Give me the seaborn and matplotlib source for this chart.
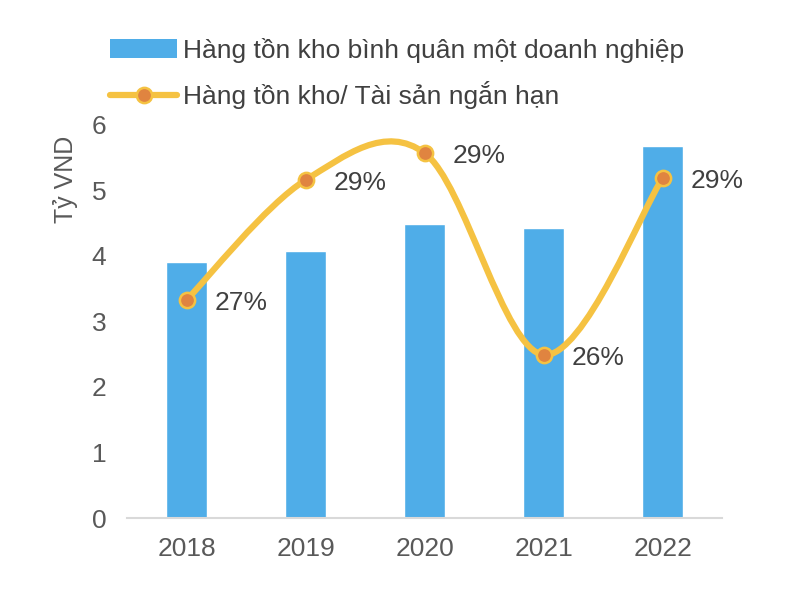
import numpy as np
import pandas as pd
import matplotlib
matplotlib.use("Agg")
import matplotlib.pyplot as plt
from matplotlib.path import Path
from matplotlib.patches import PathPatch
from matplotlib.lines import Line2D
from matplotlib.patches import Patch
import seaborn as sns

years = ["2018", "2019", "2020", "2021", "2022"]
inventory = [3.91, 4.08, 4.49, 4.43, 5.68]          # Ty VND
ratio = [26.78, 28.61, 29.02, 25.94, 28.64]         # %
bar_name = "Hàng tồn kho bình quân một doanh nghiệp"
line_name = "Hàng tồn kho/ Tài sản ngắn hạn"

sns.set_theme(style="white")
plt.rcParams["font.family"] = ["Liberation Sans", "DejaVu Sans"]

bar_color = "#4FADE8"
line_color = "#F5C242"
marker_color = "#E08440"
text_color = "#404040"

df = pd.DataFrame({"year": years, "value": inventory})

fig = plt.figure(figsize=(7.85, 5.92), dpi=100)
ax = fig.add_axes([0.162, 0.125, 0.758, 0.664])
sns.barplot(data=df, x="year", y="value", color=bar_color, width=0.34,
            saturation=1, ax=ax)
ax.set_ylim(0, 6)
ax.set_xlim(-0.5, 4.5)
ax.set_xlabel("")
ax.set_ylabel("")
for s in ["top", "right", "left"]:
    ax.spines[s].set_visible(False)
ax.spines["bottom"].set_color("#D9D9D9")
ax.spines["bottom"].set_linewidth(1.5)
ax.tick_params(axis="both", labelsize=19, colors="#595959", length=0)
ax.tick_params(axis="y", pad=15)
ax.tick_params(axis="x", pad=14)
ax.set_yticks(range(0, 7))
ax.text(-0.104, 0.862, "Tỷ VND", transform=ax.transAxes, rotation=90,
        ha="center", va="center", fontsize=18, color="#595959")

# secondary axis for the ratio, hidden
ax2 = ax.twinx()
ax2.set_ylim(23.45, 29.45)
ax2.axis("off")

# smoothed line (bezier, catmull-rom style like excel)
xs = np.arange(len(years), dtype=float)
ys = np.array(ratio)
pts = np.column_stack([xs, ys])
verts = [pts[0]]
codes = [Path.MOVETO]
n = len(pts)
for i in range(n - 1):
    p0 = pts[i - 1] if i > 0 else pts[i]
    p1 = pts[i]
    p2 = pts[i + 1]
    p3 = pts[i + 2] if i + 2 < n else pts[i + 1]
    c1 = p1 + (p2 - p0) / 6
    c2 = p2 - (p3 - p1) / 6
    verts += [c1, c2, p2]
    codes += [Path.CURVE4] * 3
ax2.add_patch(PathPatch(Path(verts, codes), facecolor="none",
                        edgecolor=line_color, lw=4.5, capstyle="round",
                        zorder=3))
ax2.plot(xs, ys, linestyle="none", marker="o", markersize=11,
         markerfacecolor=marker_color, markeredgecolor=line_color,
         markeredgewidth=1.8, zorder=4)
for x, y in zip(xs, ys):
    ax2.annotate(f"{y:.0f}%", (x, y), xytext=(20, -2), textcoords="offset points",
                 ha="left", va="center", fontsize=19, color=text_color)

handles = [
    Patch(facecolor=bar_color, edgecolor="none"),
    Line2D([0], [0], color=line_color, lw=4.5, marker="o", markersize=11,
           markerfacecolor=marker_color, markeredgecolor=line_color,
           markeredgewidth=1.8),
]
fig.legend(handles, [bar_name, line_name], loc="upper left",
           bbox_to_anchor=(0.110, 0.976), frameon=False, fontsize=19,
           handlelength=2.55, handletextpad=0.23, labelspacing=0.7,
           labelcolor=text_color)

fig.savefig("out.png", dpi=100)
